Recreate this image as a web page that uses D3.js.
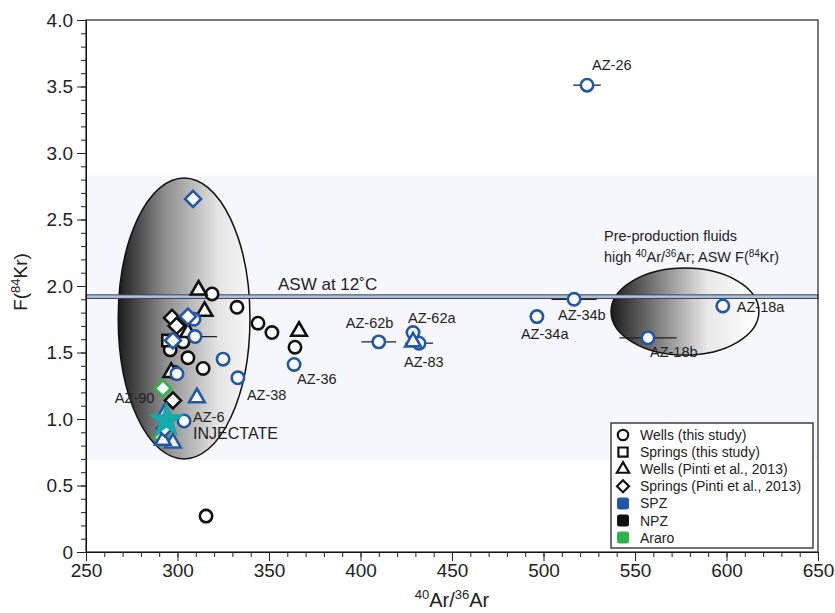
<!DOCTYPE html>
<html><head><meta charset="utf-8">
<script src="https://cdn.jsdelivr.net/npm/d3@7"></script>
<style>
body{margin:0;background:#fff;}
svg{font-family:"Liberation Sans",Arial,sans-serif;}
.num{font-family:"Liberation Sans Narrow","Arial Narrow","Liberation Sans",sans-serif;}
</style></head>
<body><svg id="c" width="835" height="613"></svg>
<script>
// ---------------- DATA ----------------
const xTicks = [250,300,350,400,450,500,550,600,650];
const yTicks = [0,0.5,1.0,1.5,2.0,2.5,3.0,3.5,4.0];
const aswF = 1.92;
const bandRange = [0.69, 2.83];
// wells (this study): circles  [x, y, zone, xerr, yerr]
const wellsThis = [
  [523.8,3.51,"SPZ",7.5,0.04],[598,1.85,"SPZ",0,0],[557.1,1.61,"SPZ",15.6,0],
  [516.7,1.90,"SPZ",12.3,0],[496.4,1.77,"SPZ",0,0],[410,1.58,"SPZ",9.5,0],
  [428.7,1.65,"SPZ",0,0],[432,1.57,"SPZ",7.6,0],[363.7,1.41,"SPZ",0,0],
  [333,1.31,"SPZ",0,0],[324.9,1.45,"SPZ",0,0],[303.6,0.985,"SPZ",0,0],
  [318.9,1.94,"NPZ",0,0],[332.5,1.84,"NPZ",0,0],[344,1.72,"NPZ",0,0],
  [351.6,1.65,"NPZ",0,0],[364.2,1.54,"NPZ",0,0],[315.6,0.27,"NPZ",0,0],
  [300.8,1.70,"NPZ",0,0],[303,1.65,"NPZ",0,0],[303,1.58,"NPZ",0,0],
  [296,1.52,"NPZ",0,0],[305.7,1.46,"NPZ",0,0],[314,1.38,"NPZ",0,0],
  [298.5,1.35,"NPZ",0,0],
  [309,1.75,"SPZ",0,0],[309.6,1.62,"SPZ",12,0],[299.7,1.34,"SPZ",0,0]
];
// springs (this study): squares
const springsThis = [[294.8,1.59,"NPZ",0,0]];
// wells (Pinti et al., 2013): triangles
const wellsPinti = [
  [311.5,1.97,"NPZ",0,0],[314.8,1.81,"NPZ",0,0],[366.4,1.66,"NPZ",0,0],
  [305.7,1.65,"NPZ",0,0],[296.6,1.35,"NPZ",0,0],
  [428.7,1.58,"SPZ",0,0],[310.6,1.16,"SPZ",0,0],[293,1.04,"SPZ",0,0],
  [297.5,0.82,"SPZ",0,0],[292,0.84,"SPZ",0,0]
];
// springs (Pinti et al., 2013): diamonds
const springsPinti = [
  [308.5,2.655,"SPZ",3,0],[305.7,1.77,"SPZ",0,0],[297.5,1.59,"SPZ",0,0],
  [293,0.93,"SPZ",0,0],
  [297,1.76,"NPZ",0,0],[299.5,1.70,"NPZ",0,0],[297.5,1.14,"NPZ",0,0],
  [292,1.23,"Araro",0,0],[291.5,0.86,"Araro",0,0]
];
const injectate = [[294,0.99]];
// labels [text, x, y, dxPx, dyPx]
const pointLabels = [
  ["AZ-26",523.8,3.51,5,-15],["AZ-18a",598,1.85,14,6],["AZ-18b",557.1,1.61,2,19],
  ["AZ-34b",516.7,1.90,-16,21],["AZ-34a",496.4,1.77,-16,22],["AZ-62b",410,1.58,-33,-14],
  ["AZ-62a",428.7,1.65,-5,-10],["AZ-83",432,1.57,-15,24],["AZ-36",363.7,1.41,3,20],
  ["AZ-38",333,1.31,9,22],["AZ-90",292,1.23,-48,15],["AZ-6",303.6,0.985,9,1]
];
const ellipses = [
  {cx:303.6, cy:1.756, rx:36, ry:1.056, grad:"g1"},
  {cx:577.3, cy:1.808, rx:40.4, ry:0.327, grad:"g2"}
];
const legendItems = [
  ["circle","Wells (this study)"],["square","Springs (this study)"],
  ["triangle","Wells (Pinti et al., 2013)"],["diamond","Springs (Pinti et al., 2013)"],
  ["SPZ","SPZ"],["NPZ","NPZ"],["Araro","Araro"]
];
const zoneColor = {SPZ:"#2157a6", NPZ:"#111111", Araro:"#2db34a"};

// ---------------- CHART ----------------
const svg = d3.select("#c");
const x = d3.scaleLinear().domain([250,650]).range([86,818]);
const y = d3.scaleLinear().domain([0,4]).range([552,20]);

const defs = svg.append("defs");
const g1 = defs.append("linearGradient").attr("id","g1");
g1.append("stop").attr("offset","0%").attr("stop-color","#1c1c1c");
g1.append("stop").attr("offset","35%").attr("stop-color","#8c8c8c");
g1.append("stop").attr("offset","75%").attr("stop-color","#e2e2e2");
g1.append("stop").attr("offset","100%").attr("stop-color","#f8f8f8");
const g2 = defs.append("linearGradient").attr("id","g2");
g2.append("stop").attr("offset","0%").attr("stop-color","#1c1c1c");
g2.append("stop").attr("offset","30%").attr("stop-color","#7a7a7a");
g2.append("stop").attr("offset","65%").attr("stop-color","#e8e8e8");
g2.append("stop").attr("offset","100%").attr("stop-color","#ffffff");

// band
svg.append("rect").attr("x",x(250)).attr("width",x(650)-x(250))
  .attr("y",y(bandRange[1])).attr("height",y(bandRange[0])-y(bandRange[1]))
  .attr("fill","#f5f7fc");

// ellipses
svg.selectAll("ellipse.e").data(ellipses).join("ellipse")
  .attr("cx",d=>x(d.cx)).attr("cy",d=>y(d.cy))
  .attr("rx",d=>x(d.cx+d.rx)-x(d.cx)).attr("ry",d=>y(d.cy)-y(d.cy+d.ry))
  .attr("fill",d=>`url(#${d.grad})`).attr("stroke","#111").attr("stroke-width",1.5);

// ASW line
svg.append("rect").attr("x",x(250)).attr("width",x(650)-x(250))
  .attr("y",y(aswF)-1.8).attr("height",3.6).attr("fill","#b4c2d8")
  .attr("stroke","#34415c").attr("stroke-width",1);
svg.append("text").attr("x",278).attr("y",y(aswF)-7).attr("font-size",17)
  .attr("fill","#222").text("ASW at 12˚C");

// axes
const yAxis = d3.axisLeft(y).tickValues(yTicks).tickSize(9).tickPadding(4)
  .tickFormat(d=>d===0?"0":d3.format(".1f")(d));
const yMinor = d3.axisLeft(y).tickValues(d3.range(0,4.0001,0.1)).tickSize(5).tickFormat("");
const xAxis = d3.axisBottom(x).tickValues(xTicks).tickSize(9).tickPadding(3);
const xMinor = d3.axisBottom(x).tickValues(d3.range(250,650.1,10)).tickSize(5).tickFormat("");
svg.append("g").attr("transform",`translate(${x(250)},0)`).call(yMinor);
svg.append("g").attr("transform",`translate(0,${y(0)})`).call(xMinor);
const ya = svg.append("g").attr("transform",`translate(${x(250)},0)`).call(yAxis);
const xa = svg.append("g").attr("transform",`translate(0,${y(0)})`).call(xAxis);
[ya,xa].forEach(a=>{a.selectAll("text").attr("class","num").attr("font-size",19).attr("fill","#222");
  a.select(".domain").remove();});
svg.selectAll(".tick line").attr("stroke","#222").attr("stroke-width",1);
// frame
svg.append("rect").attr("x",x(250)).attr("y",y(4)).attr("width",x(650)-x(250))
  .attr("height",y(0)-y(4)).attr("fill","none").attr("stroke","#222").attr("stroke-width",1.2);

// axis titles
const yt = svg.append("text").attr("transform",`translate(27,282) rotate(-90)`)
  .attr("text-anchor","middle").attr("font-size",19).attr("fill","#222").attr("class","num");
yt.append("tspan").text("F(");
yt.append("tspan").attr("font-size",13).attr("dy",-7).text("84");
yt.append("tspan").attr("dy",7).text("Kr)");
const xt = svg.append("text").attr("x",452).attr("y",607).attr("text-anchor","middle")
  .attr("font-size",20).attr("fill","#222").attr("class","num");
xt.append("tspan").attr("font-size",13).attr("dy",-8).text("40");
xt.append("tspan").attr("dy",8).text("Ar/");
xt.append("tspan").attr("font-size",13).attr("dy",-8).text("36");
xt.append("tspan").attr("dy",8).text("Ar");

// symbols
const symPath = {
  circle: d3.symbol().type(d3.symbolCircle).size(120)(),
  square: d3.symbol().type(d3.symbolSquare).size(130)(),
  triangle: d3.symbol().type(d3.symbolTriangle).size(105)(),
  diamond: "M0,-8L8,0L0,8L-8,0Z"
};
const groups = [["circle",wellsThis],["square",springsThis],["triangle",wellsPinti],["diamond",springsPinti]];
const eb = svg.append("g");
groups.forEach(([s,data])=>{
  data.filter(d=>d[3]>0).forEach(d=>{
    eb.append("line").attr("x1",x(d[0]-d[3])).attr("x2",x(d[0]+d[3]))
      .attr("y1",y(d[1])).attr("y2",y(d[1])).attr("stroke","#222").attr("stroke-width",1.3);
  });
  data.filter(d=>d[4]>0).forEach(d=>{
    eb.append("line").attr("x1",x(d[0])).attr("x2",x(d[0]))
      .attr("y1",y(d[1]-d[4])).attr("y2",y(d[1]+d[4])).attr("stroke","#222").attr("stroke-width",1.3);
  });
});
const order = ["NPZ","Araro","SPZ"];
order.forEach(z=>{
  groups.forEach(([s,data])=>{
    svg.append("g").selectAll("path").data(data.filter(d=>d[2]===z)).join("path")
      .attr("d",symPath[s]).attr("transform",d=>`translate(${x(d[0])},${y(d[1])})`)
      .attr("fill","#fff").attr("stroke",zoneColor[z]).attr("stroke-width",2.6);
  });
});
// injectate star
svg.selectAll("path.star").data(injectate).join("path")
  .attr("d",d3.symbol().type(d3.symbolStar).size(420)())
  .attr("transform",d=>`translate(${x(d[0])},${y(d[1])})`).attr("fill","#16aaa8");

// labels
svg.append("g").selectAll("text").data(pointLabels).join("text")
  .attr("x",d=>x(d[1])+d[3]).attr("y",d=>y(d[2])+d[4]).attr("font-size",14.5)
  .attr("fill","#222").text(d=>d[0]);
svg.append("text").attr("x",x(303.6)+9).attr("y",y(0.985)+18).attr("font-size",16)
  .attr("fill","#222").text("INJECTATE");
// pre-production
svg.append("text").attr("x",604).attr("y",241).attr("font-size",14.5).attr("fill","#222")
  .text("Pre-production fluids");
const pp = svg.append("text").attr("x",604).attr("y",262).attr("font-size",14.5).attr("fill","#222");
pp.append("tspan").text("high ");
pp.append("tspan").attr("font-size",10).attr("dy",-5).text("40");
pp.append("tspan").attr("dy",5).text("Ar/");
pp.append("tspan").attr("font-size",10).attr("dy",-5).text("36");
pp.append("tspan").attr("dy",5).text("Ar; ASW F(");
pp.append("tspan").attr("font-size",10).attr("dy",-5).text("84");
pp.append("tspan").attr("dy",5).text("Kr)");

// legend
const lg = svg.append("g");
lg.append("rect").attr("x",611).attr("y",423).attr("width",202).attr("height",125)
  .attr("fill","#fff").attr("stroke","#222").attr("stroke-width",1.3);
legendItems.forEach((it,i)=>{
  const cy = 435 + i*17.1;
  if (symPath[it[0]]) {
    const p = it[0]==="diamond" ? "M0,-6L6,0L0,6L-6,0Z" :
      d3.symbol().type({circle:d3.symbolCircle,square:d3.symbolSquare,triangle:d3.symbolTriangle}[it[0]])
        .size(it[0]==="triangle"?65:85)();
    lg.append("path").attr("d",p).attr("transform",`translate(623,${cy})`)
      .attr("fill","#fff").attr("stroke","#111").attr("stroke-width",2.2);
  } else {
    lg.append("rect").attr("x",617).attr("y",cy-6).attr("width",12).attr("height",12)
      .attr("rx",2.5).attr("fill",zoneColor[it[0]]);
  }
  lg.append("text").attr("x",640).attr("y",cy+5).attr("font-size",14).attr("fill","#222").text(it[1]);
});
</script></body></html>
